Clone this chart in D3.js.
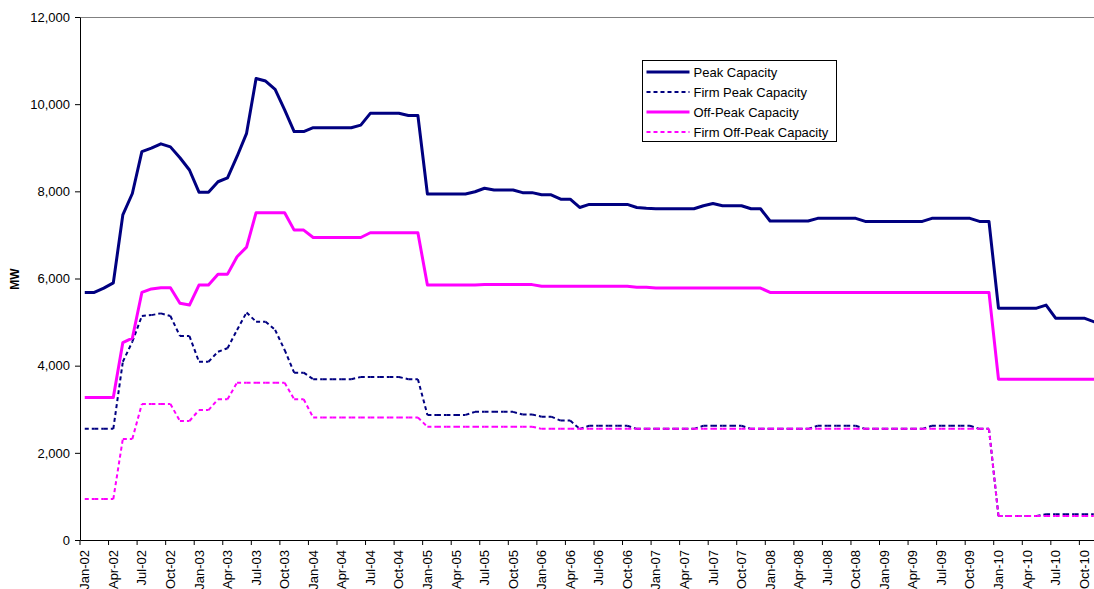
<!DOCTYPE html>
<html>
<head>
<meta charset="utf-8">
<script src="https://cdn.jsdelivr.net/npm/d3@7"></script>
<style>
  html, body { margin: 0; padding: 0; background: #fff; }
  svg { display: block; font-family: "Liberation Sans", Arial, sans-serif; }
</style>
</head>
<body>
<svg id="chart" width="1094" height="589"></svg>
<script>
// Monthly categories, Jan-02 .. Dec-10
const years = ["02", "03", "04", "05", "06", "07", "08", "09", "10"];
const monthNames = ["Jan", "Feb", "Mar", "Apr", "May", "Jun", "Jul", "Aug", "Sep", "Oct", "Nov", "Dec"];
const months = [];
years.forEach(yy => monthNames.forEach(m => months.push(m + "-" + yy)));

// Capacity series (MW), one value per month
const peakCapacity = [
  5680, 5680, 5780, 5900, 7460, 7950, 8910, 8990, 9090, 9020, 8770, 8490,
  7980, 7980, 8220, 8310, 8800, 9330, 10590, 10530, 10340, 9870, 9370, 9370,
  9460, 9460, 9460, 9460, 9460, 9520, 9790, 9790, 9790, 9790, 9740, 9740,
  7940, 7940, 7940, 7940, 7940, 7990, 8070, 8030, 8030, 8030, 7970, 7970,
  7920, 7920, 7820, 7820, 7630, 7700, 7700, 7700, 7700, 7700, 7630, 7610,
  7600, 7600, 7600, 7600, 7600, 7670, 7720, 7670, 7670, 7670, 7600, 7600,
  7320, 7320, 7320, 7320, 7320, 7380, 7380, 7380, 7380, 7380, 7310, 7310,
  7310, 7310, 7310, 7310, 7310, 7380, 7380, 7380, 7380, 7380, 7310, 7310,
  5320, 5320, 5320, 5320, 5320, 5390, 5090, 5090, 5090, 5090, 5010, 5010
];
const firmPeakCapacity = [
  2550, 2550, 2550, 2550, 4090, 4550, 5140, 5160, 5200, 5140, 4680, 4680,
  4090, 4090, 4320, 4400, 4820, 5220, 5010, 5010, 4820, 4360, 3840, 3840,
  3690, 3690, 3690, 3690, 3690, 3740, 3740, 3740, 3740, 3740, 3690, 3690,
  2870, 2870, 2870, 2870, 2870, 2940, 2940, 2940, 2940, 2940, 2880, 2880,
  2830, 2830, 2740, 2740, 2550, 2620, 2620, 2620, 2620, 2620, 2550, 2550,
  2550, 2550, 2550, 2550, 2550, 2620, 2620, 2620, 2620, 2620, 2550, 2550,
  2550, 2550, 2550, 2550, 2550, 2620, 2620, 2620, 2620, 2620, 2550, 2550,
  2550, 2550, 2550, 2550, 2550, 2620, 2620, 2620, 2620, 2620, 2550, 2550,
  550, 550, 550, 550, 550, 590, 590, 590, 590, 590, 590, 590
];
const offPeakCapacity = [
  3270, 3270, 3270, 3270, 4530, 4630, 5680, 5760, 5790, 5790, 5430, 5390,
  5850, 5850, 6100, 6100, 6500, 6720, 7510, 7510, 7510, 7510, 7110, 7110,
  6940, 6940, 6940, 6940, 6940, 6940, 7050, 7050, 7050, 7050, 7050, 7050,
  5850, 5850, 5850, 5850, 5850, 5850, 5860, 5860, 5860, 5860, 5860, 5860,
  5820, 5820, 5820, 5820, 5820, 5820, 5820, 5820, 5820, 5820, 5800, 5800,
  5780, 5780, 5780, 5780, 5780, 5780, 5780, 5780, 5780, 5780, 5780, 5780,
  5680, 5680, 5680, 5680, 5680, 5680, 5680, 5680, 5680, 5680, 5680, 5680,
  5680, 5680, 5680, 5680, 5680, 5680, 5680, 5680, 5680, 5680, 5680, 5680,
  3690, 3690, 3690, 3690, 3690, 3690, 3690, 3690, 3690, 3690, 3690, 3690
];
const firmOffPeakCapacity = [
  940, 940, 940, 940, 2320, 2320, 3120, 3120, 3120, 3120, 2730, 2730,
  2980, 2980, 3230, 3230, 3610, 3610, 3610, 3610, 3610, 3610, 3230, 3230,
  2810, 2810, 2810, 2810, 2810, 2810, 2810, 2810, 2810, 2810, 2810, 2810,
  2600, 2600, 2600, 2600, 2600, 2600, 2600, 2600, 2600, 2600, 2600, 2600,
  2550, 2550, 2550, 2550, 2550, 2550, 2550, 2550, 2550, 2550, 2550, 2550,
  2550, 2550, 2550, 2550, 2550, 2550, 2550, 2550, 2550, 2550, 2550, 2550,
  2550, 2550, 2550, 2550, 2550, 2550, 2550, 2550, 2550, 2550, 2550, 2550,
  2550, 2550, 2550, 2550, 2550, 2550, 2550, 2550, 2550, 2550, 2550, 2550,
  550, 550, 550, 550, 550, 550, 550, 550, 550, 550, 550, 550
];

const yTicks = [0, 2000, 4000, 6000, 8000, 10000, 12000];
const seriesNames = ["Peak Capacity", "Firm Peak Capacity", "Off-Peak Capacity", "Firm Off-Peak Capacity"];

const series = [
  { name: seriesNames[0], values: peakCapacity, color: "#000080", width: 3, dash: null },
  { name: seriesNames[1], values: firmPeakCapacity, color: "#000080", width: 2, dash: "4,3" },
  { name: seriesNames[2], values: offPeakCapacity, color: "#FF00FF", width: 3, dash: null },
  { name: seriesNames[3], values: firmOffPeakCapacity, color: "#FF00FF", width: 2, dash: "4,3" }
];

const svg = d3.select("#chart");
const plot = { left: 80, top: 17, bottom: 540, monthWidth: 9.518 };
plot.right = plot.left + months.length * plot.monthWidth;

const x = d3.scaleBand().domain(months).range([plot.left, plot.right]).padding(0);
const bw = x.bandwidth();
const xc = m => x(m) + bw / 2;
const y = d3.scaleLinear().domain([0, 12000]).range([plot.bottom, plot.top]);

// plot-area frame (top and right edges)
svg.append("line")
  .attr("x1", plot.left).attr("x2", plot.right)
  .attr("y1", plot.top + 0.5).attr("y2", plot.top + 0.5)
  .attr("stroke", "#808080").attr("stroke-width", 1);
svg.append("line")
  .attr("x1", plot.right).attr("x2", plot.right)
  .attr("y1", plot.top).attr("y2", plot.bottom)
  .attr("stroke", "#808080").attr("stroke-width", 1);

// series lines; dashed series are drawn segment by segment so each
// month-to-month step starts its own dash pattern
const line = d3.line()
  .x((d, i) => xc(months[i]))
  .y(d => y(d));

series.forEach(s => {
  if (!s.dash) {
    svg.append("path")
      .datum(s.values)
      .attr("d", line)
      .attr("fill", "none")
      .attr("stroke", s.color)
      .attr("stroke-width", s.width)
      .attr("stroke-linejoin", "round");
  } else {
    const segs = d3.pairs(s.values.map((v, i) => ({ m: months[i], v })));
    svg.append("g").selectAll("line")
      .data(segs)
      .join("line")
      .attr("x1", d => xc(d[0].m)).attr("y1", d => y(d[0].v))
      .attr("x2", d => xc(d[1].m)).attr("y2", d => y(d[1].v))
      .attr("stroke", s.color)
      .attr("stroke-width", s.width)
      .attr("stroke-dasharray", s.dash);
  }
});

// y axis
const yAxis = svg.append("g")
  .attr("transform", `translate(${plot.left},0)`)
  .call(d3.axisLeft(y).tickValues(yTicks).tickFormat(d3.format(",")).tickSize(5).tickSizeOuter(0).tickPadding(5));
yAxis.select(".domain").attr("stroke", "#000");
yAxis.selectAll(".tick line").attr("stroke", "#000");
yAxis.selectAll(".tick text").attr("fill", "#000").style("font-size", "13px").style("font-family", "Liberation Sans, Arial, sans-serif");

// x axis: ticks between categories, labels centred on the category
const xAxis = svg.append("g")
  .attr("transform", `translate(0,${plot.bottom})`)
  .call(d3.axisBottom(x).tickValues(months.filter((m, i) => i % 3 === 0)).tickSize(5).tickSizeOuter(0));
xAxis.select(".domain").attr("stroke", "#000");
xAxis.selectAll(".tick line").attr("stroke", "#000").attr("x1", -bw / 2).attr("x2", -bw / 2);
xAxis.selectAll(".tick text")
  .attr("fill", "#000")
  .style("font-size", "13px")
  .style("font-family", "Liberation Sans, Arial, sans-serif")
  .style("text-anchor", "end")
  .attr("transform", "rotate(-90)")
  .attr("x", -10)
  .attr("y", 0)
  .attr("dy", "0.35em");

// y axis title
svg.append("text")
  .attr("transform", "translate(19,279) rotate(-90)")
  .attr("text-anchor", "middle")
  .style("font-size", "12px")
  .style("font-weight", "bold")
  .attr("fill", "#000")
  .text("MW");

// legend
const legend = svg.append("g").attr("transform", "translate(642.5,60.5)");
legend.append("rect")
  .attr("width", 194).attr("height", 81)
  .attr("fill", "#fff").attr("stroke", "#000").attr("stroke-width", 1);
series.forEach((s, i) => {
  const row = legend.append("g").attr("transform", `translate(0,${11.5 + i * 20})`);
  row.append("line")
    .attr("x1", 4).attr("x2", 47)
    .attr("stroke", s.color)
    .attr("stroke-width", s.width)
    .attr("stroke-dasharray", s.dash);
  row.append("text")
    .attr("x", 51).attr("dy", "0.35em")
    .style("font-size", "13px")
    .attr("fill", "#000")
    .text(s.name);
});
</script>
</body>
</html>
